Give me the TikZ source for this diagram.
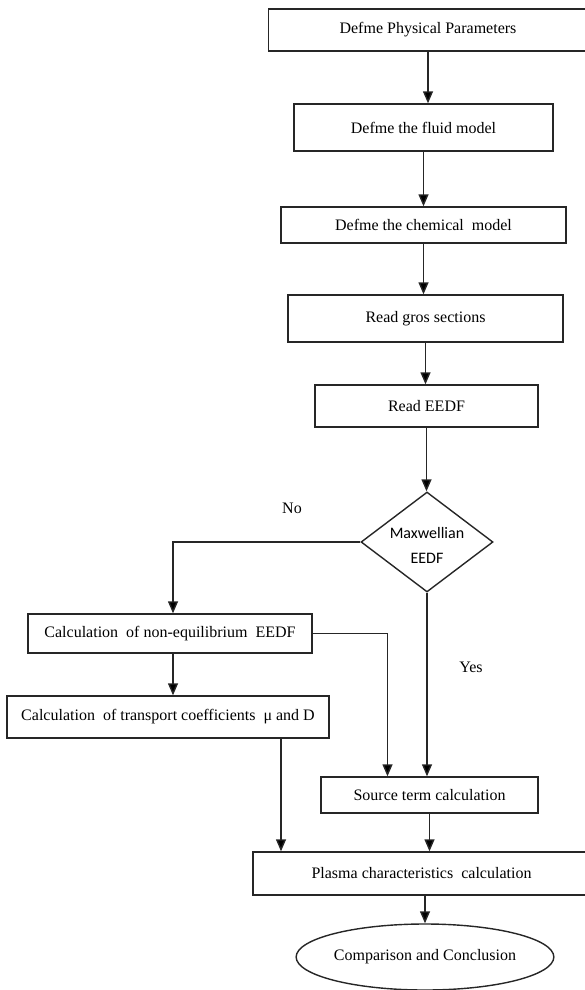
\documentclass[tikz,border=0pt]{standalone}
\usepackage{fontspec}
\setmainfont{Liberation Serif}
\newfontfamily\diafont{Carlito}
\usetikzlibrary{arrows.meta, shapes.geometric}

\tikzset{
	box/.style={draw=black!85, line width=1.4pt, rectangle, inner sep=0pt, font=\fontsize{16}{19}\selectfont},
	arr/.style={draw=black!85, line width=1.4pt, -{Triangle[length=12pt, width=10pt, fill=black]}},
	lbl/.style={inner sep=0pt, font=\fontsize{16}{19}\selectfont}
}

\begin{document}
\begin{tikzpicture}[x=1pt, y=-1pt]
	%\draw[help lines] (0,0) grid (584,990);
	\useasboundingbox (0,0) rectangle (584,990);
	
	\node [box, minimum width=319, minimum height=42] (phys) at (428, 30) {Defme Physical Parameters};
	\node [box, minimum width=259, minimum height=47] (fluid) at (423.5, 127.5) {Defme the fluid model};
	\node [box, minimum width=285, minimum height=36] (chem) at (423.5, 225) {Defme the chemical\ \ model};
	\node [box, minimum width=275, minimum height=47] (gros) at (425.5, 318.5) {Read gros sections};
	\node [box, minimum width=223, minimum height=42] (eedf) at (426.5, 406) {Read EEDF};
	
	% Entscheidung
	\node [draw=black!85, line width=1.4pt, diamond, inner sep=0pt, minimum width=132, minimum height=100] (maxw) at (427, 542) {};
	\node [inner sep=0pt, align=center, font=\diafont\fontsize{16}{25}\selectfont] (maxwtxt) at (427, 545) {Maxwellian\\EEDF};
	\node [lbl] (no) at (292, 508) {No};
	\node [lbl] (yes) at (471, 667) {Yes};
	
	\node [box, minimum width=284, minimum height=39] (noneq) at (170, 633.5) {Calculation\ \ of non-equilibrium\ \ EEDF};
	\node [box, minimum width=322, minimum height=42] (transp) at (168, 717) {Calculation\ \ of transport coefficients\ \ μ and D};
	\node [box, minimum width=217, minimum height=36] (source) at (429.5, 795) {Source term calculation};
	\node [box, minimum width=337, minimum height=43] (plasma) at (421.5, 873.5) {Plasma characteristics\ \ calculation};
	\node [draw=black!85, line width=1.4pt, ellipse, inner sep=0pt, minimum width=216, minimum height=66, font=\fontsize{16}{19}\selectfont] (concl) at (425, 957) {Comparison and Conclusion};
	
	% Pfeile
	\draw [arr] (phys.south) -- (phys.south |- fluid.north);
	\draw [arr] (fluid.south) -- (fluid.south |- chem.north);
	\draw [arr] (chem.south) -- (chem.south |- gros.north);
	\draw [arr] (gros.south) -- (gros.south |- eedf.north);
	\draw [arr] (eedf.south) -- (eedf.south |- maxw.north);
	\draw [arr] (maxw.west) -| ([xshift=3pt]noneq.north);				% No
	\draw [arr] (maxw.south) -- (maxw.south |- source.north);			% Yes
	\draw [arr] (noneq.east) -| ([xshift=-42pt]source.north);
	\draw [arr] ([xshift=3pt]noneq.south) -- ([xshift=3pt]noneq.south |- transp.north);
	\draw [arr] ([xshift=113pt]transp.south) -- ([xshift=113pt]transp.south |- plasma.north);
	\draw [arr] (source.south) -- (source.south |- plasma.north);
	\draw [arr] (concl.north |- plasma.south) -- (concl.north);

\end{tikzpicture}
\end{document}
